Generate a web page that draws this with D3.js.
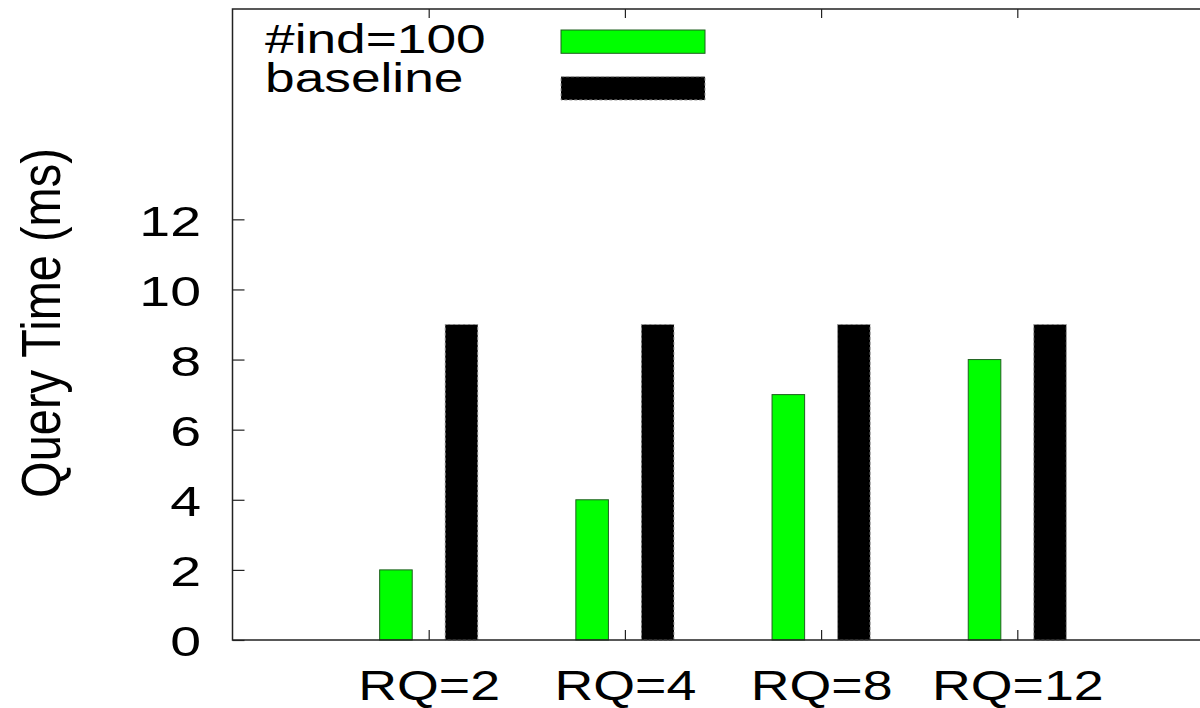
<!DOCTYPE html>
<html>
<head>
<meta charset="utf-8">
<script src="https://cdn.jsdelivr.net/npm/d3@7"></script>
<style>
  html, body { margin: 0; padding: 0; background: #fff; }
  svg { display: block; }
  text { font-family: "Liberation Sans", Arial, Helvetica, sans-serif; fill: #000; }
</style>
</head>
<body>
<script>
// chart values
var categories = ['RQ=2', 'RQ=4', 'RQ=8', 'RQ=12'];
var indexValues = [2, 4, 7, 8];        // #ind=100
var baselineValues = [9, 9, 9, 9];     // baseline
var yTicks = [0, 2, 4, 6, 8, 10, 12];
var seriesNames = ['#ind=100', 'baseline'];

(function() {
    var width = 1200, height = 708;
    var left = 232.5, top = 9, bottom = 640;

    var svg = d3.select('body').append('svg')
                .attr('width', width)
                .attr('height', height);

    // gnuplot style: categories at 1..4 on a 0..5 range, right edge runs off the page
    var x = d3.scaleLinear().domain([0, 5]).range([left, left + 5 * 196.2]);
    var y = d3.scaleLinear().domain([0, 18]).range([bottom, top]);
    var barW = 0.166, off = 0.167;

    var styles = [
        { fill: '#00ff00', stroke: '#1f5f1f', dash: null },
        { fill: '#000000', stroke: '#9a9a9a', dash: '3,2' }
    ];

    var series = [indexValues, baselineValues];
    series.forEach(function(vals, s) {
        svg.append('g').selectAll('rect')
            .data(vals)
            .enter().append('rect')
                .attr('x', function(d, i) { return x(i + 1 + (s === 0 ? -off : off) - barW / 2); })
                .attr('width', x(barW) - x(0))
                .attr('y', function(d) { return y(d); })
                .attr('height', function(d) { return y(0) - y(d); })
                .attr('fill', styles[s].fill)
                .attr('stroke', styles[s].stroke)
                .attr('stroke-width', 1)
                .attr('stroke-dasharray', styles[s].dash);
    });

    // frame
    svg.append('rect')
        .attr('x', x(0)).attr('y', y(18))
        .attr('width', x(5) - x(0)).attr('height', y(0) - y(18))
        .attr('fill', 'none').attr('stroke', '#222').attr('stroke-width', 1.5);

    // y axis, ticks pointing inward
    var ySx = 1.32;
    var yAxis = d3.axisLeft(y).tickValues(yTicks).tickSize(-12).tickPadding(0);
    var gy = svg.append('g').attr('transform', 'translate(' + left + ',0)').call(yAxis);
    gy.select('.domain').remove();
    gy.selectAll('line').attr('stroke', '#222').attr('stroke-width', 1.2);
    gy.selectAll('text')
        .attr('font-size', 42)
        .attr('font-family', '"Liberation Sans", Arial, sans-serif')
        .attr('fill', '#000')
        .attr('text-anchor', 'end')
        .attr('x', -31.5 / ySx)
        .attr('dy', '0.38em')
        .attr('transform', 'scale(' + ySx + ',1)');

    // x axis at bottom, ticks inward
    var catTicks = categories.map(function(c, i) { return i + 1; });
    var xAxis = d3.axisBottom(x).tickValues(catTicks).tickSize(-10)
                  .tickFormat(function(d) { return categories[d - 1]; });
    var gx = svg.append('g').attr('transform', 'translate(0,' + bottom + ')').call(xAxis);
    gx.select('.domain').remove();
    gx.selectAll('line').attr('stroke', '#222').attr('stroke-width', 1.2);
    gx.selectAll('text')
        .attr('font-size', 42)
        .attr('font-family', '"Liberation Sans", Arial, sans-serif')
        .attr('fill', '#000')
        .attr('y', 60)
        .attr('dy', 0)
        .attr('transform', 'scale(1.28,1)');

    // mirrored ticks along the top
    var gxt = svg.append('g').attr('transform', 'translate(0,' + top + ')')
                 .call(d3.axisTop(x).tickValues(catTicks).tickSize(-9).tickFormat(''));
    gxt.select('.domain').remove();
    gxt.selectAll('line').attr('stroke', '#222').attr('stroke-width', 1.2);

    // y label
    svg.append('g')
        .attr('transform', 'translate(60,323) rotate(-90) scale(1,1.18)')
        .append('text')
            .attr('text-anchor', 'middle')
            .attr('font-size', 47)
            .text('Query Time (ms)');

    // legend
    var legend = svg.append('g');
    seriesNames.forEach(function(name, s) {
        var ly = 53 + s * 39;
        legend.append('g')
            .attr('transform', 'translate(265,' + ly + ') scale(1.3,1)')
            .append('text')
                .attr('font-size', 41)
                .text(name);
        legend.append('rect')
            .attr('x', 561).attr('y', 30 + s * 46.7)
            .attr('width', 144).attr('height', 23.3)
            .attr('fill', styles[s].fill)
            .attr('stroke', styles[s].stroke)
            .attr('stroke-width', 1)
            .attr('stroke-dasharray', styles[s].dash);
    });
}());
</script>
</body>
</html>
